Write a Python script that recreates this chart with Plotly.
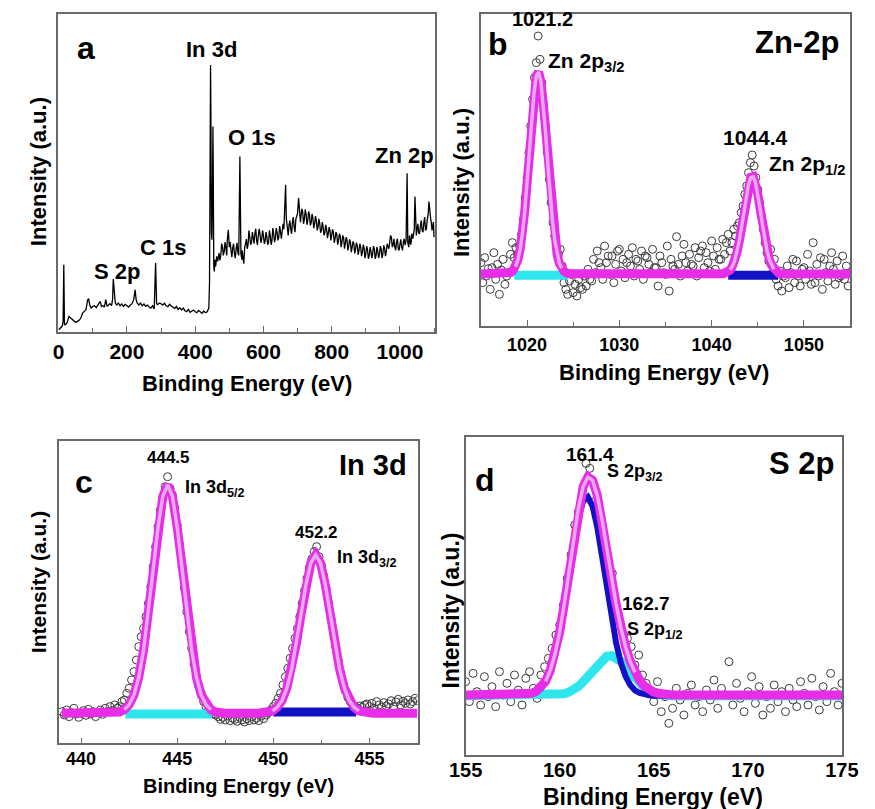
import numpy as np
import plotly.graph_objects as go

W, H = 875, 809
FONT = "Liberation Sans, Arial, sans-serif"

# ---------------- Panel a : survey spectrum ----------------
SURVEY_EV = [
    0, 5, 10, 13, 15, 17, 20, 25, 30, 35,
    40, 45, 50, 55, 60, 65, 70, 75, 80, 85,
    88, 91, 95, 100, 105, 110, 115, 122, 125, 130,
    134, 138, 142, 146, 150, 155, 158, 160, 163, 166,
    170, 175, 180, 185, 190, 195, 200, 205, 210, 215,
    220, 224, 227, 230, 235, 240, 245, 250, 255, 260,
    265, 270, 275, 280, 284, 287, 290, 295, 300, 305,
    310, 315, 320, 325, 330, 335, 340, 345, 350, 355,
    360, 365, 370, 375, 380, 385, 390, 395, 400, 405,
    410, 415, 420, 425, 430, 435, 440, 442, 443.5, 445,
    446, 447.5, 449, 450.5, 452, 453, 454.5, 456, 458, 460,
    463, 466, 470, 475, 480, 485, 490, 494, 497, 500,
    505, 510, 515, 520, 525, 528, 531, 534, 537, 540,
    545, 550, 555, 560, 565, 570, 575, 580, 585, 590,
    595, 600, 605, 610, 615, 620, 625, 630, 635, 640,
    645, 650, 655, 660, 663, 665, 667, 670, 675, 680,
    685, 690, 695, 700, 703, 706, 710, 715, 720, 725,
    730, 735, 740, 745, 750, 755, 760, 765, 770, 775,
    780, 785, 790, 795, 800, 805, 810, 815, 820, 825,
    830, 835, 840, 845, 850, 855, 860, 865, 870, 875,
    880, 885, 890, 895, 900, 905, 910, 915, 920, 925,
    930, 935, 940, 945, 950, 955, 960, 965, 970, 975,
    980, 985, 990, 995, 1000, 1005, 1010, 1015, 1018, 1021,
    1023, 1026, 1030, 1033, 1036, 1040, 1042, 1044, 1046, 1050,
    1055, 1060, 1065, 1070, 1075, 1080, 1083, 1085, 1088, 1092,
    1096, 1100,
]
SURVEY_I = [
    7, 12, 17, 32, 202, 22, 22, 29, 47, 42,
    37, 32, 29, 32, 35, 42, 57, 62, 67, 97,
    99, 82, 72, 77, 79, 73, 82, 92, 77, 79,
    75, 97, 77, 82, 85, 79, 97, 159, 112, 87,
    81, 87, 79, 84, 77, 83, 79, 75, 81, 85,
    97, 127, 97, 87, 81, 87, 79, 84, 77, 81,
    75, 72, 79, 69, 207, 85, 82, 87, 85, 81,
    86, 79, 76, 83, 78, 74, 71, 77, 68, 73,
    66, 72, 64, 61, 68, 59, 63, 66, 61, 58,
    65, 60, 56, 63, 58, 61, 72, 147, 497, 802,
    667, 297, 277, 397, 617, 477, 197, 182, 217, 197,
    227, 212, 237, 229, 257, 241, 253, 275, 307, 255,
    245, 253, 235, 249, 239, 255, 527, 235, 217, 229,
    253, 279, 263, 289, 269, 283, 297, 275, 289, 293,
    279, 289, 273, 285, 269, 289, 275, 295, 281, 299,
    285, 301, 303, 309, 397, 442, 342, 307, 321, 309,
    329, 315, 339, 357, 402, 355, 345, 361, 339, 355,
    335, 351, 329, 341, 325, 335, 315, 325, 305, 315,
    299, 309, 295, 305, 289, 299, 281, 293, 275, 289,
    269, 283, 265, 275, 259, 269, 255, 265, 249, 259,
    245, 255, 239, 251, 235, 247, 229, 243, 235, 249,
    229, 243, 233, 249, 235, 251, 241, 257, 269, 285,
    261, 255, 269, 251, 263, 255, 269, 261, 275, 477,
    267, 255, 277, 271, 289, 297, 309, 407, 295, 307,
    297, 319, 305, 329, 305, 337, 357, 392, 345, 329,
    315, 285,
]
# extra readings of the noisy background between the main samples
SURVEY_FINE_EV = [
    472.5, 477.5, 482.5, 487.5, 492.5, 502.5, 507.5, 512.5, 517.5, 522.5,
    527.5, 537.5, 542.5, 547.5, 552.5, 557.5, 562.5, 567.5, 572.5, 577.5,
    582.5, 587.5, 592.5, 597.5, 602.5, 607.5, 612.5, 617.5, 622.5, 627.5,
    632.5, 637.5, 642.5, 647.5, 652.5, 657.5, 672.5, 677.5, 682.5, 687.5,
    692.5, 697.5, 708.5, 712.5, 717.5, 722.5, 727.5, 732.5, 737.5, 742.5,
    747.5, 752.5, 757.5, 762.5, 767.5, 772.5, 777.5, 782.5, 787.5, 792.5,
    797.5, 802.5, 807.5, 812.5, 817.5, 822.5, 827.5, 832.5, 837.5, 842.5,
    847.5, 852.5, 857.5, 862.5, 867.5, 872.5, 877.5, 882.5, 887.5, 892.5,
    897.5, 902.5, 907.5, 912.5, 917.5, 922.5, 927.5, 932.5, 937.5, 942.5,
    947.5, 952.5, 957.5, 962.5, 967.5, 972.5, 977.5, 982.5, 987.5, 992.5,
    997.5, 1002.5, 1007.5, 1012.5, 1028, 1031.5, 1034.5, 1038, 1048, 1052.5,
    1057.5, 1062.5, 1067.5, 1072.5, 1077.5, 1090, 1094, 1098,
]
SURVEY_FINE_I = [
    215, 265, 230, 270, 230, 270, 225, 265, 222, 268,
    230, 245, 205, 275, 250, 305, 262, 300, 265, 310,
    262, 310, 268, 305, 265, 300, 262, 305, 262, 312,
    270, 312, 275, 318, 280, 325, 290, 335, 295, 345,
    300, 350, 330, 370, 325, 368, 322, 362, 320, 355,
    312, 348, 305, 340, 298, 330, 290, 322, 282, 315,
    275, 308, 268, 300, 262, 295, 255, 290, 250, 285,
    245, 278, 240, 272, 236, 268, 232, 265, 228, 262,
    222, 258, 220, 255, 222, 258, 220, 256, 222, 258,
    222, 260, 228, 265, 250, 290, 255, 280, 245, 280,
    245, 278, 245, 280, 290, 262, 295, 280, 290, 325,
    295, 335, 300, 345, 310, 340, 305, 330,
]
SURVEY_LABELS = ["In 3d", "O 1s", "Zn 2p", "C 1s", "S 2p"]

# ---------------- Panel b : Zn 2p ----------------
ZN_X0, ZN_STEP = 1015.0, 0.2
ZN_DATA = [
    190, 130, 205, 150, 172,   # 1015
    110, 175, 220, 140, 185,   # 1016
    95, 168, 200, 125, 150,    # 1017
    160, 215, 250, 205, 235,   # 1018
    215, 240, 275, 320, 385,   # 1019
    445, 520, 600, 680, 745,   # 1020
    790, 870, 800, 730, 660,   # 1021
    600, 520, 440, 370, 310,   # 1022
    270, 235, 215, 230, 180,   # 1023
    130, 110, 95, 135, 155,    # 1024
    100, 125, 90, 140, 115,    # 1025
    110, 150, 120, 170, 140,   # 1026
    135, 200, 160, 225, 190,   # 1027
    175, 140, 240, 190, 210,   # 1028
    155, 210, 130, 185, 225,   # 1029
    230, 165, 200, 145, 190,   # 1030
    215, 180, 235, 150, 200,   # 1031
    195, 170, 225, 140, 210,   # 1032
    205, 185, 160, 230, 175,   # 1033
    175, 120, 210, 190, 160,   # 1034
    155, 240, 105, 200, 180,   # 1035
    170, 268, 185, 150, 210,   # 1036
    245, 190, 165, 215, 185,   # 1037
    180, 235, 150, 205, 225,   # 1038
    240, 175, 220, 190, 165,   # 1039
    255, 210, 170, 235, 200,   # 1040
    200, 260, 215, 250, 275,   # 1041
    225, 250, 290, 270, 300,   # 1042
    310, 340, 360, 395, 420,   # 1043
    460, 490, 513, 480, 445,   # 1044
    410, 370, 330, 290, 250,   # 1045
    220, 195, 230, 160, 200,   # 1046
    140, 120, 165, 105, 150,   # 1047
    145, 180, 115, 160, 200,   # 1048
    130, 195, 150, 120, 170,   # 1049
    175, 140, 215, 165, 125,   # 1050
    250, 130, 185, 150, 205,   # 1051
    110, 200, 160, 135, 180,   # 1052
    220, 170, 125, 195, 145,   # 1053
    150, 210, 140, 180, 120,   # 1054
    160,                       # 1055
]
ZN_BASE = 156
ZN_FIT_STEP = 0.25
ZN_FIT1_X0 = 1018.0
ZN_FIT1 = [158, 161, 167, 178, 198, 230, 278, 345, 429, 524, 619, 699, 750,
           762, 733, 669, 582, 485, 394, 316, 257, 215, 188, 173, 164, 160, 157]
ZN_FIT2_X0 = 1041.25
ZN_FIT2 = [157, 159, 162, 168, 179, 196, 221, 255, 297, 344, 389, 425, 446,
           448, 431, 397, 353, 306, 263, 227, 200, 182, 170, 163, 159, 157]
ZN_CYAN_X, ZN_CYAN_Y = [1018.6, 1024.4], [152, 152]
ZN_BLUE_X, ZN_BLUE_Y = [1041.8, 1047.2], [152, 152]

# ---------------- Panel c : In 3d ----------------
IN_X0, IN_STEP = 439.0, 0.125
IN_DATA = [
    95, 85, 100, 80, 92, 105, 88, 78,          # 439
    90, 98, 84, 102, 88, 95, 80, 93,           # 440
    100, 87, 105, 95, 110, 98, 115, 105,       # 441
    110, 125, 130, 150, 165, 190, 215, 250,    # 442
    290, 320, 345, 380, 420, 470, 530, 590,    # 443
    650, 700, 735, 770, 800, 765, 745, 705,    # 444
    655, 595, 530, 465, 395, 335, 285, 238,    # 445
    200, 170, 150, 125, 110, 100, 95, 88,      # 446
    85, 80, 72, 78, 70, 82, 68, 75,            # 447
    72, 66, 78, 70, 64, 74, 68, 80,            # 448
    70, 76, 68, 82, 74, 85, 92, 100,           # 449
    110, 120, 135, 150, 175, 200, 225, 255,    # 450
    285, 315, 345, 380, 420, 458, 495, 528,    # 451
    553, 575, 590, 560, 535, 502, 465, 420,    # 452
    375, 330, 288, 248, 212, 182, 158, 138,    # 453
    125, 115, 110, 105, 112, 108, 115, 118,    # 454
    110, 120, 105, 125, 115, 108, 122, 112,    # 455
    118, 128, 110, 124, 132, 115, 126, 120,    # 456
    130, 118, 125, 135, 128,                   # 457
]
IN_BASE = 90
IN_FIT_STEP = 0.25
IN_FIT1_X0 = 441.5
IN_FIT1 = [90, 91, 94, 101, 116, 145, 198, 280, 391, 522, 648, 741, 775,
           741, 648, 522, 391, 280, 198, 145, 116, 101, 94, 91, 90]
IN_FIT2_X0 = 449.2
IN_FIT2 = [90, 91, 93, 97, 108, 128, 165, 222, 299, 389, 477, 541, 565,
           541, 477, 389, 299, 222, 165, 128, 108, 97, 93, 91, 90]
IN_CYAN_X, IN_CYAN_Y = [442.3, 446.8], [88, 88]
IN_BLUE_X, IN_BLUE_Y = [450.0, 454.3], [94, 94]

# ---------------- Panel d : S 2p ----------------
S_X0, S_STEP = 155.0, 0.2
S_DATA = [
    220, 160, 245, 190, 150,   # 155
    235, 175, 205, 145, 250,   # 156
    180, 215, 160, 240, 195,   # 157
    150, 230, 250, 200, 170,   # 158
    240, 265, 290, 320, 360,   # 159
    390, 450, 530, 600, 690,   # 160
    730, 780, 875, 860, 760,   # 161
    720, 690, 640, 580, 545,   # 162
    440, 400, 360, 350, 325,   # 163
    270, 300, 240, 215, 190,   # 164
    160, 220, 130, 175, 95,    # 165
    140, 200, 165, 120, 185,   # 166
    210, 150, 175, 130, 195,   # 167
    165, 225, 140, 200, 180,   # 168
    280, 150, 215, 170, 130,   # 169
    190, 235, 155, 205, 120,   # 170
    175, 140, 210, 160, 190,   # 171
    130, 200, 165, 145, 220,   # 172
    185, 150, 230, 175, 135,   # 173
    205, 160, 245, 190, 150,   # 174
    215,                       # 175
]
S_BASE = 180
S_FIT_STEP = 0.25
S_FIT_X0 = 158.0
S_ENVELOPE = [181, 182, 185, 191, 202, 221, 254, 302, 369, 455, 553, 653, 742,
              806, 834, 824, 779, 707, 622, 534, 453, 382, 325, 281, 248, 224,
              207, 196, 189, 185, 182, 181, 180]
S_BLUE = [179, 180, 183, 188, 199, 219, 251, 298, 364, 447, 540, 633, 712,
          762, 774, 746, 683, 597, 502, 412, 336, 277, 236, 210, 194, 186,
          181, 179, 178, 178, 178, 178, 178]
S_CYAN = [178, 178, 178, 178, 178, 178, 179, 180, 181, 184, 189, 196, 206,
          220, 236, 254, 272, 286, 296, 298, 293, 281, 265, 247, 230, 214,
          202, 193, 187, 183, 180, 179, 178]

MAGENTA = "#e82ce8"
MAG_LIGHT = "#e6a8ee"
CYAN = "#2ee6ee"
BLUE = "#1212c4"
DATA_C = "#3c3c3c"


def grid(x0, step, vals):
    return [round(x0 + step * i, 4) for i in range(len(vals))]


fig = go.Figure()


def data_trace(x, y, ax):
    fig.add_trace(go.Scatter(x=x, y=y, mode="markers", xaxis=ax[0], yaxis=ax[1],
                             marker=dict(symbol="circle-open", size=8, color=DATA_C,
                                         line=dict(width=1, color=DATA_C)),
                             showlegend=False, hoverinfo="skip"))


def line_trace(x, y, ax, color, width):
    fig.add_trace(go.Scatter(x=x, y=y, mode="lines", xaxis=ax[0], yaxis=ax[1],
                             line=dict(color=color, width=width),
                             showlegend=False, hoverinfo="skip"))


def peak_tube(x, y, ax):
    line_trace(x, y, ax, MAG_LIGHT, 3.5)


# panel a: merge main and fine readings by energy
survey = sorted(zip(SURVEY_EV + SURVEY_FINE_EV, SURVEY_I + SURVEY_FINE_I))
fig.add_trace(go.Scatter(x=[p[0] for p in survey], y=[p[1] for p in survey],
                         mode="lines", xaxis="x", yaxis="y",
                         line=dict(color="black", width=1.3), showlegend=False,
                         hoverinfo="skip"))

# panel b
axb = ("x2", "y2")
data_trace(grid(ZN_X0, ZN_STEP, ZN_DATA), ZN_DATA, axb)
line_trace(ZN_CYAN_X, ZN_CYAN_Y, axb, CYAN, 9)
line_trace(ZN_BLUE_X, ZN_BLUE_Y, axb, BLUE, 9)
zx1 = grid(ZN_FIT1_X0, ZN_FIT_STEP, ZN_FIT1)
zx2 = grid(ZN_FIT2_X0, ZN_FIT_STEP, ZN_FIT2)
line_trace([1015.0] + zx1 + zx2 + [1055.0], [ZN_BASE] + ZN_FIT1 + ZN_FIT2 + [ZN_BASE],
           axb, MAGENTA, 9)
peak_tube(zx1[3:-3], ZN_FIT1[3:-3], axb)
peak_tube(zx2[3:-3], ZN_FIT2[3:-3], axb)

# panel c
axc = ("x3", "y3")
data_trace(grid(IN_X0, IN_STEP, IN_DATA), IN_DATA, axc)
line_trace(IN_CYAN_X, IN_CYAN_Y, axc, CYAN, 9)
line_trace(IN_BLUE_X, IN_BLUE_Y, axc, BLUE, 9)
ix1 = grid(IN_FIT1_X0, IN_FIT_STEP, IN_FIT1)
ix2 = grid(IN_FIT2_X0, IN_FIT_STEP, IN_FIT2)
line_trace([439.0] + ix1 + ix2 + [457.5], [IN_BASE] + IN_FIT1 + IN_FIT2 + [IN_BASE],
           axc, MAGENTA, 9)
peak_tube(ix1[3:-3], IN_FIT1[3:-3], axc)
peak_tube(ix2[3:-3], IN_FIT2[3:-3], axc)

# panel d
axd = ("x4", "y4")
data_trace(grid(S_X0, S_STEP, S_DATA), S_DATA, axd)
sx = grid(S_FIT_X0, S_FIT_STEP, S_ENVELOPE)
line_trace([155.0] + sx + [175.0], [S_BASE - 2] + S_CYAN + [S_BASE - 2], axd, CYAN, 9)
line_trace([155.0] + sx + [175.0], [S_BASE - 2] + S_BLUE + [S_BASE - 2], axd, BLUE, 6)
line_trace([155.0] + sx + [175.0], [S_BASE] + S_ENVELOPE + [S_BASE], axd, MAGENTA, 9)
peak_tube(sx[5:-8], S_ENVELOPE[5:-8], axd)


def px(x):
    return x / W


def py(y):
    return 1 - y / H


FRAME = "#6a6a6a"


def xax(dom, rng, tick0, dtick, minor_dtick, fsize, standoff, ticks=True):
    d = dict(domain=dom, range=rng, tickmode="linear", tick0=tick0, dtick=dtick,
             showline=True, mirror=True, linecolor=FRAME, linewidth=1.5,
             showgrid=False, zeroline=False,
             tickfont=dict(family=FONT, size=fsize, color="black", weight="bold"),
             ticklabelstandoff=standoff)
    if ticks:
        d.update(ticks="inside", ticklen=6, tickwidth=1.3, tickcolor=FRAME,
                 minor=dict(ticks="inside", tickmode="linear", tick0=tick0,
                            dtick=minor_dtick, ticklen=4, tickwidth=1.2,
                            tickcolor=FRAME))
    else:
        d.update(ticks="")
    return d


def yax(dom, rng, anchor):
    return dict(domain=dom, range=rng, showticklabels=False, ticks="",
                showline=True, mirror=True, linecolor=FRAME, linewidth=1.5,
                showgrid=False, zeroline=False, anchor=anchor)


fig.update_layout(
    width=W, height=H, margin=dict(l=0, r=0, t=0, b=0),
    paper_bgcolor="white", plot_bgcolor="white", showlegend=False,
    xaxis=xax([px(43), px(435)], [-1, 1103], 0, 200, 100, 21, 0),
    yaxis=yax([py(332), py(14)], [0, 955], "x"),
    xaxis2=dict(anchor="y2", **xax([px(482.7), px(866.7)], [1015, 1055], 1020, 10, 5, 18, 2)),
    yaxis2=yax([py(326), py(14)], [0, 936], "x2"),
    xaxis3=dict(anchor="y3", **xax([px(43.3), px(416.7)], [438.83, 457.5], 440, 5, 2.5, 18, -2)),
    yaxis3=yax([py(743.3), py(440.7)], [0, 908], "x3"),
    xaxis4=dict(anchor="y4", **xax([px(466.7), px(858.3)], [154.999, 175.001], 155, 5, 5, 20, -4,
                                   ticks=False)),
    yaxis4=yax([py(755), py(436.7)], [0, 955], "x4"),
)
fig.layout.xaxis.anchor = "y"


def ann(text, x, y, size, xanchor="center", angle=0):
    fig.add_annotation(text="<b>" + text + "</b>", x=px(x), y=py(y), xref="paper",
                       yref="paper", showarrow=False, xanchor=xanchor, yanchor="middle",
                       textangle=angle, font=dict(family=FONT, size=size, color="black"))


# panel a
ann("a", 72, 48, 32)
ann(SURVEY_LABELS[0], 202, 50, 22)
ann(SURVEY_LABELS[1], 245, 137, 22)
ann(SURVEY_LABELS[2], 403, 155, 22)
ann(SURVEY_LABELS[3], 152, 248, 22)
ann(SURVEY_LABELS[4], 104, 272, 22)
ann("Binding Energy (eV)", 239, 383, 22)
ann("Intensity (a.u.)", 22, 172, 22, angle=-90)

# panel b
ann("b", 500, 44, 32)
ann("1021.2", 547, 19, 20)
ann("Zn 2p<sub>3/2</sub>", 550, 62, 21, xanchor="left")
ann("Zn-2p", 857, 43, 31, xanchor="right")
ann("1044.4", 768, 137, 21)
ann("Zn 2p<sub>1/2</sub>", 780, 165, 21, xanchor="left")
ann("Binding Energy (eV)", 673, 373, 22)
ann("Intensity (a.u.)", 462, 183, 22, angle=-90)

# panel c
ann("c", 70, 482, 32)
ann("444.5", 158, 457, 17)
ann("In 3d<sub>5/2</sub>", 173, 489, 18, xanchor="left")
ann("In 3d", 408, 465, 29, xanchor="right")
ann("452.2", 312, 532, 17)
ann("In 3d<sub>3/2</sub>", 331, 558, 18, xanchor="left")
ann("Binding Energy (eV)", 230, 786, 20)
ann("Intensity (a.u.)", 22, 582, 21, angle=-90)

# panel d
ann("d", 487, 480, 32)
ann("161.4", 596, 454, 19)
ann("S 2p<sub>3/2</sub>", 612, 472, 18, xanchor="left")
ann("162.7", 654, 603, 19)
ann("S 2p<sub>1/2</sub>", 633, 630, 18, xanchor="left")
ann("S 2p", 852, 463, 31, xanchor="right")
ann("Binding Energy (eV)", 662, 797, 23)
ann("Intensity (a.u.)", 452, 610, 23, angle=-90)

fig.write_html("out.html")
